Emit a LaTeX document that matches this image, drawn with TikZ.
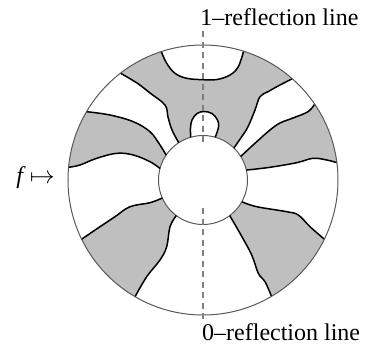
\documentclass[tikz,border=0pt]{standalone}
\usepackage{fontspec}
\setmainfont{Liberation Serif}
\usepackage{tikz}
\usetikzlibrary{positioning}

\begin{document}
\begin{tikzpicture}[x=1pt, y=1pt,
  font=\fontsize{24}{28}\selectfont,
  grayreg/.style={fill=black!25},
  whitereg/.style={fill=white},
  rim/.style={draw=black!65, line width=1pt},
  seam/.style={draw=black, line width=1.5pt},
  refline/.style={draw=black!50, line width=1.2pt, dash pattern=on 6pt off 4.5pt},
  lbl/.style={inner sep=0pt}]

  \useasboundingbox (-203,-166) rectangle (162,180);

  % gray sectors (inner curve, outer arc, back along the next curve, inner arc)
  \fill[grayreg] plot[smooth, tension=0.6] coordinates {(123:44.5pt) (-31,50) (-35,63) (-38,75) (-53,87) (-66,97) (127.7:135pt)}
    arc[start angle=127.7, end angle=48.6, radius=135pt]
    -- plot[smooth, tension=0.6] coordinates {(48.6:135pt) (77,95) (65,88.3) (57,83.3) (52,70) (45,53.3) (38.7,43.3) (46:44.5pt)}
    arc[start angle=46, end angle=123, radius=44.5pt] -- cycle;
  \fill[grayreg] plot[smooth, tension=0.6] coordinates {(32:44.5pt) (53.7,38.3) (67,50) (77,57) (90,62) (105,68.3) (34.2:135pt)}
    arc[start angle=34.2, end angle=7.4, radius=135pt]
    -- plot[smooth, tension=0.6] coordinates {(7.4:135pt) (123.7,20) (110,21.7) (93.7,17.3) (67,12.7) (12.9:44.5pt)}
    arc[start angle=12.9, end angle=32, radius=44.5pt] -- cycle;
  \fill[grayreg] plot[smooth, tension=0.6] coordinates {(-29.3:44.5pt) (53.7,-26.7) (83.7,-31.7) (95.3,-35) (107,-46.7) (-26:135pt)}
    arc[start angle=-26, end angle=-59.5, radius=135pt]
    -- plot[smooth, tension=0.6] coordinates {(-59.5:135pt) (62,-101.7) (55.3,-93.3) (48.7,-75) (37,-53.3) (-53.1:44.5pt)}
    arc[start angle=-53.1, end angle=-29.3, radius=44.5pt] -- cycle;
  \fill[grayreg] plot[smooth, tension=0.6] coordinates {(233.1:44.5pt) (-33,-46.7) (-36.3,-66.7) (-43,-80) (-56.3,-96.7) (239.8:135pt)}
    arc[start angle=239.8, end angle=206, radius=135pt]
    -- plot[smooth, tension=0.6] coordinates {(206:135pt) (-103,-46.7) (-88,-36.7) (-73,-26.7) (-53,-22.7) (203.9:44.5pt)}
    arc[start angle=203.9, end angle=233.1, radius=44.5pt] -- cycle;
  \fill[grayreg] plot[smooth, tension=0.6] coordinates {(165:44.5pt) (-53,18.3) (-69.7,25) (-86.3,26.7) (-106.3,21.7) (-123,15) (174.6:135pt)}
    arc[start angle=174.6, end angle=149.6, radius=135pt]
    -- plot[smooth, tension=0.6] coordinates {(149.6:135pt) (-93,65) (-69.7,58.3) (-53,48.3) (-43,35) (145.9:44.5pt)}
    arc[start angle=145.9, end angle=165, radius=44.5pt] -- cycle;

  % white cap at the top and the bubble on the hub
  \fill[whitereg] plot[smooth, tension=0.6] coordinates {(108:135pt) (-36.3,116.7) (-28,106.7) (-16.3,101.7) (0,100.3) (14,100.5) (27,105) (35.3,113.3) (72.5:135pt)}
    arc[start angle=72.5, end angle=108, radius=135pt] -- cycle;
  \fill[whitereg] plot[smooth, tension=0.6] coordinates {(106:44.5pt) (-12.5,52) (-11,60) (-6,66.5) (1,68.5) (9,66.5) (14.5,60) (15.5,53) (74:44.5pt)} -- cycle;

  % hub
  \draw[rim, fill=white] (0,0) circle[radius=44.5pt];

  % curves
  \draw[seam] plot[smooth, tension=0.6] coordinates {(123:44.5pt) (-31,50) (-35,63) (-38,75) (-53,87) (-66,97) (127.7:135pt)};
  \draw[seam] plot[smooth, tension=0.6] coordinates {(46:44.5pt) (38.7,43.3) (45,53.3) (52,70) (57,83.3) (65,88.3) (77,95) (48.6:135pt)};
  \draw[seam] plot[smooth, tension=0.6] coordinates {(32:44.5pt) (53.7,38.3) (67,50) (77,57) (90,62) (105,68.3) (34.2:135pt)};
  \draw[seam] plot[smooth, tension=0.6] coordinates {(12.9:44.5pt) (67,12.7) (93.7,17.3) (110,21.7) (123.7,20) (7.4:135pt)};
  \draw[seam] plot[smooth, tension=0.6] coordinates {(-29.3:44.5pt) (53.7,-26.7) (83.7,-31.7) (95.3,-35) (107,-46.7) (-26:135pt)};
  \draw[seam] plot[smooth, tension=0.6] coordinates {(-53.1:44.5pt) (37,-53.3) (48.7,-75) (55.3,-93.3) (62,-101.7) (-59.5:135pt)};
  \draw[seam] plot[smooth, tension=0.6] coordinates {(233.1:44.5pt) (-33,-46.7) (-36.3,-66.7) (-43,-80) (-56.3,-96.7) (239.8:135pt)};
  \draw[seam] plot[smooth, tension=0.6] coordinates {(203.9:44.5pt) (-53,-22.7) (-73,-26.7) (-88,-36.7) (-103,-46.7) (206:135pt)};
  \draw[seam] plot[smooth, tension=0.6] coordinates {(165:44.5pt) (-53,18.3) (-69.7,25) (-86.3,26.7) (-106.3,21.7) (-123,15) (174.6:135pt)};
  \draw[seam] plot[smooth, tension=0.6] coordinates {(145.9:44.5pt) (-43,35) (-53,48.3) (-69.7,58.3) (-93,65) (149.6:135pt)};
  \draw[seam] plot[smooth, tension=0.6] coordinates {(108:135pt) (-36.3,116.7) (-28,106.7) (-16.3,101.7) (0,100.3) (14,100.5) (27,105) (35.3,113.3) (72.5:135pt)};
  \draw[seam] plot[smooth, tension=0.6] coordinates {(106:44.5pt) (-12.5,52) (-11,60) (-6,66.5) (1,68.5) (9,66.5) (14.5,60) (15.5,53) (74:44.5pt)};

  % disc
  \draw[rim] (0,0) circle[radius=135pt];

  % reflection line
  \coordinate (r1top) at (0,149);
  \coordinate (r1end) at (0,37);
  \coordinate (r0top) at (0,-28);
  \coordinate (r0end) at (0,-140);
  \draw[refline] (r1top) -- (r1end);
  \draw[refline] (r0top) -- (r0end);

  \node[lbl, anchor=base west] (lab1) at (-2.7,155) {1--reflection line};
  \node[lbl, anchor=base west] (lab0) at (-1,-160.5) {0--reflection line};
  \node[lbl, anchor=base east] (fmap) at (-148,-3) {$\mathit{f}\mapsto$};
\end{tikzpicture}
\end{document}
